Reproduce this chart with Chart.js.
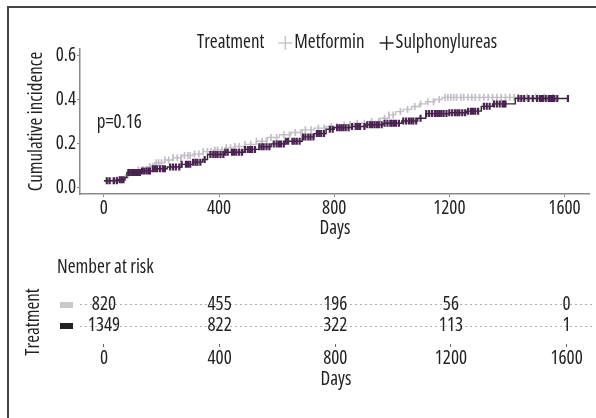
<!DOCTYPE html>
<html>
<head>
<meta charset="utf-8">
<script src="https://cdn.jsdelivr.net/npm/chart.js@4.4.1/dist/chart.umd.min.js"></script>
<style>
html, body { margin: 0; padding: 0; background: #fff; }
#wrap { position: relative; width: 596px; height: 418px; overflow: hidden; }
#frame { position: absolute; left: 7px; top: 6px; width: 620px; height: 440px; border-left: 2px solid #444; border-top: 2px solid #444; }
canvas { position: absolute; left: 0; top: 0; }
</style>
</head>
<body>
<div id="wrap">
  <div id="frame"></div>
  <canvas id="curve" width="596" height="418"></canvas>
  <canvas id="risk" width="596" height="418"></canvas>
</div>
<script>
// cumulative incidence steps (days, value from that day on)
const metTimes = [0, 40, 70, 85, 120, 150, 176, 210, 240, 270, 310, 345, 380, 420, 453, 490, 530, 567, 610, 650, 689, 730, 772, 820, 870, 916, 960, 990, 1014, 1040, 1069, 1095, 1118, 1150, 1175, 1560];
const metCum = [0.03, 0.035, 0.045, 0.068, 0.08, 0.095, 0.112, 0.125, 0.135, 0.145, 0.152, 0.163, 0.17, 0.18, 0.186, 0.196, 0.21, 0.227, 0.24, 0.25, 0.262, 0.27, 0.277, 0.285, 0.292, 0.3, 0.315, 0.33, 0.345, 0.355, 0.368, 0.38, 0.39, 0.4, 0.41, 0.41];
const sulTimes = [0, 50, 73, 80, 130, 170, 220, 270, 310, 343, 360, 420, 488, 540, 581, 630, 689, 730, 772, 800, 860, 910, 970, 1035, 1090, 1118, 1200, 1260, 1311, 1350, 1429, 1612];
const sulCum = [0.03, 0.035, 0.045, 0.068, 0.075, 0.085, 0.093, 0.105, 0.115, 0.127, 0.15, 0.16, 0.173, 0.185, 0.198, 0.21, 0.23, 0.245, 0.265, 0.272, 0.277, 0.285, 0.292, 0.302, 0.315, 0.336, 0.34, 0.347, 0.369, 0.38, 0.405, 0.405];

// censoring times
const metCensor = [15, 30, 45, 60, 75, 95, 110, 120, 135, 148, 160, 170, 182, 190, 200, 212, 225, 240, 255, 268, 280, 292, 300, 315, 330, 345, 360, 372, 385, 395, 410, 425, 440, 455, 470, 490, 510, 530, 550, 565, 580, 600, 625, 645, 665, 685, 700, 720, 745, 765, 790, 810, 835, 855, 880, 905, 930, 955, 975, 990, 1005, 1030, 1055, 1080, 1100, 1125, 1145, 1165, 1185, 1195, 1205, 1215, 1225, 1240, 1250, 1265, 1278, 1290, 1305, 1320, 1335, 1350, 1365, 1380, 1395, 1410, 1425, 1440, 1470, 1500, 1530, 1560];
const sulCensor = [10, 20, 35, 45, 55, 62, 68, 85, 90, 98, 105, 112, 118, 125, 132, 140, 148, 155, 160, 170, 178, 185, 195, 205, 212, 230, 240, 250, 262, 270, 285, 292, 300, 310, 318, 325, 335, 350, 370, 380, 388, 395, 405, 415, 422, 430, 445, 452, 460, 470, 480, 490, 500, 508, 515, 525, 540, 548, 555, 565, 575, 590, 600, 608, 615, 625, 632, 640, 655, 662, 670, 680, 692, 700, 710, 718, 728, 740, 748, 755, 765, 785, 795, 810, 818, 825, 832, 840, 850, 862, 875, 882, 890, 905, 915, 925, 932, 940, 948, 955, 965, 975, 985, 995, 1000, 1008, 1015, 1025, 1040, 1050, 1060, 1068, 1075, 1085, 1100, 1120, 1130, 1140, 1150, 1158, 1165, 1172, 1180, 1190, 1200, 1210, 1220, 1228, 1235, 1245, 1255, 1265, 1275, 1282, 1290, 1300, 1320, 1330, 1340, 1355, 1365, 1375, 1385, 1390, 1395, 1440, 1450, 1460, 1475, 1490, 1505, 1515, 1520, 1525, 1535, 1545, 1550, 1555, 1560, 1565, 1575, 1612];

// number at risk
const riskDays = [0, 400, 800, 1200, 1600];
const riskMet = [820, 455, 196, 56, 0];
const riskSul = [1349, 822, 322, 113, 1];

const xTicks = [0, 400, 800, 1200, 1600];
const yTicks = [0, 0.2, 0.4, 0.6];
const groups = ["Metformin", "Sulphonylureas"];

const FAMILY = "'Open Sans', 'DejaVu Sans Condensed', sans-serif";
const FONT = "condensed 19px " + FAMILY;
Chart.defaults.font.family = FAMILY;
Chart.defaults.font.weight = "condensed"; // ends up as font-stretch in the canvas font string
Chart.defaults.font.size = 19;
Chart.defaults.color = "#222";
Chart.defaults.animation = false;

const stepAt = (times, vals, t) => {
    let v = vals[0];
    for (let i = 0; i < times.length; i++) {
        if (times[i] <= t) v = vals[i];
    }
    return v;
};
const stepData = (times, vals) => times.map((t, i) => ({ x: t, y: vals[i] }));
const censorData = (list, times, vals) => list.map(t => ({ x: t, y: stepAt(times, vals, t) }));

const drawKey = (ctx, x, y, color) => {
    ctx.strokeStyle = color;
    ctx.lineWidth = 1.5;
    ctx.beginPath();
    ctx.moveTo(x, y); ctx.lineTo(x + 14, y);
    ctx.moveTo(x + 7, y - 7); ctx.lineTo(x + 7, y + 7);
    ctx.stroke();
};

// legend + p value
const curveExtras = {
    id: "curveExtras",
    afterDraw(chart) {
        const ctx = chart.ctx;
        ctx.save();
        ctx.font = FONT;
        ctx.fillStyle = "#222";
        ctx.textBaseline = "middle";
        ctx.textAlign = "left";
        let x = 197;
        const y = 43;
        ctx.fillText("Treatment", x, y);
        x += ctx.measureText("Treatment").width + 14;
        drawKey(ctx, x, y, "#c6c6c6");
        x += 16;
        ctx.fillText(groups[0], x, y);
        x += ctx.measureText(groups[0]).width + 15;
        drawKey(ctx, x, y, "#2a2a2a");
        x += 16;
        ctx.fillText(groups[1], x, y);

        const xs = chart.scales.x, ys = chart.scales.y;
        ctx.fillText("p=0.16", xs.getPixelForValue(-25), ys.getPixelForValue(0.295));
        ctx.restore();
    }
};

new Chart(document.getElementById("curve"), {
    type: "scatter",
    data: {
        datasets: [
            {
                label: groups[0],
                data: stepData(metTimes, metCum),
                showLine: true, stepped: true,
                borderColor: "#c2c2c2", borderWidth: 1.4,
                pointRadius: 0, order: 4
            },
            {
                label: groups[0] + " censored",
                data: censorData(metCensor, metTimes, metCum),
                showLine: false,
                pointStyle: "line", rotation: 90, pointRadius: 3.5,
                pointBorderColor: "#c4bcc9", pointBorderWidth: 1.7, order: 3
            },
            {
                label: groups[1],
                data: stepData(sulTimes, sulCum),
                showLine: true, stepped: true,
                borderColor: "#2a2a2a", borderWidth: 1.4,
                pointRadius: 0, order: 2
            },
            {
                label: groups[1] + " censored",
                data: censorData(sulCensor, sulTimes, sulCum),
                showLine: false,
                pointStyle: "line", rotation: 90, pointRadius: 3.5,
                pointBorderColor: "#4a2152", pointBorderWidth: 2.2, order: 1
            }
        ]
    },
    options: {
        responsive: false,
        events: [],
        layout: { padding: { left: 20, right: 4, top: 49, bottom: 176 } },
        plugins: { legend: { display: false }, tooltip: { enabled: false } },
        scales: {
            x: {
                type: "linear", min: -83, max: 1688,
                afterBuildTicks: s => { s.ticks = xTicks.map(v => ({ value: v })); },
                afterFit: s => { s.height = 48; },
                grid: { drawOnChartArea: false, drawTicks: true, tickLength: 3, color: "#888" },
                border: { display: true, color: "#8a8a8a", width: 1.5 },
                ticks: { padding: 0, color: "#222", maxRotation: 0, autoSkip: false, callback: v => String(v) },
                title: { display: true, text: "Days", color: "#222", padding: { top: 0, bottom: 2 } }
            },
            y: {
                type: "linear", min: -0.03, max: 0.63,
                afterBuildTicks: s => { s.ticks = yTicks.map(v => ({ value: v })); },
                afterFit: s => { s.width = 60; },
                grid: { drawOnChartArea: false, drawTicks: true, tickLength: 3, color: "#888" },
                border: { display: true, color: "#8a8a8a", width: 1.5 },
                ticks: { padding: 1, color: "#222", callback: v => v.toFixed(1) },
                title: { display: true, text: "Cumulative incidence", color: "#222", padding: { top: 5, bottom: 0 } }
            }
        }
    },
    plugins: [curveExtras]
});

// risk table numbers, swatches and heading
const riskExtras = {
    id: "riskExtras",
    afterDraw(chart) {
        const ctx = chart.ctx;
        const xs = chart.scales.x, ys = chart.scales.y;
        ctx.save();
        ctx.font = FONT;
        ctx.fillStyle = "#222";
        ctx.textBaseline = "middle";
        ctx.textAlign = "left";
        ctx.fillText("Nember at risk", 57, 268);

        const y1 = ys.getPixelForValue(1), y2 = ys.getPixelForValue(2);
        ctx.fillStyle = "#c8c8c8";
        ctx.fillRect(60, y1 - 3, 13, 6);
        ctx.fillStyle = "#222";
        ctx.fillRect(60, y2 - 3, 13, 6);

        ctx.fillStyle = "#222";
        ctx.textAlign = "center";
        chart.data.datasets.forEach(ds => {
            ds.data.forEach(p => {
                ctx.fillText(String(p.n), xs.getPixelForValue(p.x), ys.getPixelForValue(p.y));
            });
        });
        ctx.restore();
    }
};

new Chart(document.getElementById("risk"), {
    type: "scatter",
    data: {
        datasets: [
            { label: groups[0], data: riskDays.map((d, i) => ({ x: d, y: 1, n: riskMet[i] })), pointRadius: 0 },
            { label: groups[1], data: riskDays.map((d, i) => ({ x: d, y: 2, n: riskSul[i] })), pointRadius: 0 }
        ]
    },
    options: {
        responsive: false,
        events: [],
        layout: { padding: { left: 20, right: 4, top: 300, bottom: 26 } },
        plugins: { legend: { display: false }, tooltip: { enabled: false } },
        scales: {
            x: {
                type: "linear", min: -83, max: 1688,
                afterBuildTicks: s => { s.ticks = xTicks.map(v => ({ value: v })); },
                afterFit: s => { s.height = 48; },
                grid: { drawOnChartArea: false, drawTicks: true, tickLength: 3, color: "#666" },
                border: { display: false },
                ticks: { padding: 0, color: "#222", maxRotation: 0, autoSkip: false, callback: v => String(v) },
                title: { display: true, text: "Days", color: "#222", padding: { top: 0, bottom: 1 } }
            },
            y: {
                type: "linear", min: 0.762, max: 2.857, reverse: true,
                afterBuildTicks: s => { s.ticks = [{ value: 1 }, { value: 2 }]; },
                afterFit: s => { s.width = 60; },
                grid: { drawOnChartArea: true, drawTicks: false, color: "#b0b0b0", lineWidth: 1 },
                border: { display: false, dash: [2, 3] },
                ticks: { display: false },
                title: { display: true, text: "Treatment", color: "#222", padding: { top: 2, bottom: 0 } }
            }
        }
    },
    plugins: [riskExtras]
});
</script>
</body>
</html>
